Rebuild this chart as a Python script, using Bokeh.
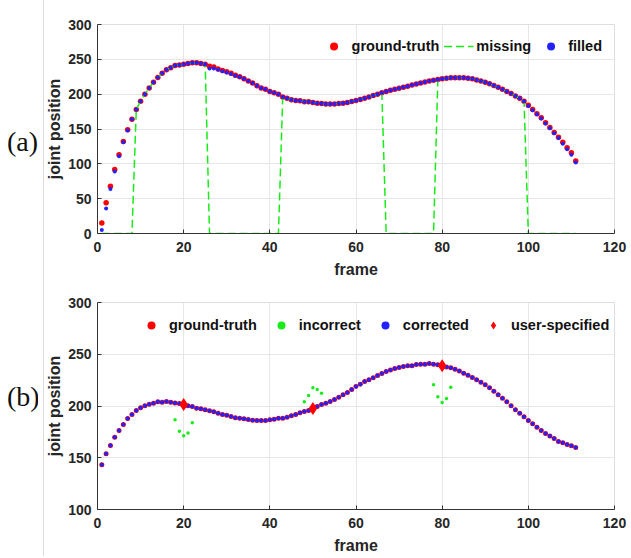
from bokeh.plotting import figure
from bokeh.models import Range1d, FixedTicker, Legend, LegendItem, Div
from bokeh.layouts import column, row
from bokeh.embed import file_html
from bokeh.resources import INLINE

# ---------------- data ----------------
frames = list(range(1, 112))

truth_a = [15, 44, 68, 92, 113, 132, 149, 164, 178, 190,
           200, 209, 217, 224, 230, 235, 238, 241, 242, 243,
           244, 245, 245, 244, 243, 240, 239, 236, 234, 232,
           230, 227, 225, 222, 219, 216, 212, 209, 207, 204,
           202, 200, 196, 194, 192, 191, 190.5, 189, 189, 188,
           187, 186.5, 186, 186, 186, 186.5, 187, 188, 189.5, 191,
           192.5, 194, 196, 198, 200, 202, 204, 205.5, 207, 208.5,
           210, 211.5, 213, 214.5, 216, 217.5, 219, 220, 221, 222,
           223, 223.5, 223.5, 223.5, 223.5, 223, 222, 220.5, 219, 217,
           215, 212.5, 210, 207, 204, 201, 197.5, 194, 190, 184,
           178, 172, 166, 159, 152, 145, 138, 131, 123, 116,
           104]

filled_a = [5, 36, 64, 89, 111, 131, 148, 164, 178, 190,
            200, 209, 217, 224, 230, 235, 238, 241, 242, 243,
            244, 245, 245, 244, 243, 237, 237, 235, 233, 231,
            229, 226.5, 224.5, 222, 219, 216, 212, 209, 207, 204,
            202, 200, 196, 194, 192, 191, 190.5, 189, 189, 188,
            187, 186.5, 186, 186, 186, 186.5, 187, 188, 189.5, 191,
            192.5, 194, 196, 198, 200, 202, 204, 205.5, 207, 208.5,
            210, 211.5, 213, 214.5, 216, 217.5, 219, 220, 221, 222,
            223, 223.5, 223.5, 223.5, 223.5, 223, 222, 220.5, 219, 217,
            215, 212.5, 210, 207, 204, 201, 197.5, 194, 190, 183,
            177, 171, 165, 158, 151, 144, 137, 129, 121, 113,
            102]

missing_gaps_a = [(1, 8), (26, 42), (67, 78), (100, 111)]

truth_b = [143.2, 153.8, 161.8, 169.9, 176.3, 182.1, 187.9, 191.8, 195.7, 198.2,
           200.2, 201.8, 202.7, 204.0, 203.7, 204.3, 203.7, 203.0, 202.4, 201.4,
           200.2, 199.5, 197.9, 197.3, 196.3, 195.3, 194.4, 193.0, 191.8, 191.1,
           189.9, 188.6, 188.2, 187.6, 187.0, 186.3, 186.0, 186.0, 186.0, 186.6,
           187.3, 188.2, 188.2, 189.2, 190.5, 191.8, 193.4, 194.7, 195.7, 197.6,
           199.5, 201.4, 202.7, 204.3, 206.3, 208.5, 210.8, 213.0, 215.9, 218.8,
           221.0, 223.7, 225.3, 227.2, 229.5, 231.4, 233.3, 234.9, 236.2, 237.2,
           238.2, 238.8, 238.8, 240.1, 240.4, 240.4, 241.0, 240.4, 239.8, 238.8,
           237.8, 236.9, 235.6, 233.7, 231.7, 229.8, 227.5, 225.3, 223.0, 220.5,
           217.6, 214.3, 210.8, 207.6, 204.0, 200.2, 196.3, 193.0, 189.5, 186.0,
           182.8, 179.5, 176.3, 173.4, 171.1, 168.6, 165.7, 164.4, 162.8, 161.5,
           159.9]

corrected_b = list(truth_b)

incorrect_frames_b = [18, 19, 20, 21, 22, 48, 49, 50, 51, 52, 78, 79, 80, 81, 82]
incorrect_b = [186.6, 175.7, 171.2, 174.0, 183.7,
               204.0, 210.1, 217.6, 216.0, 212.4,
               220.5, 208.9, 203.4, 207.2, 218.2]

user_frames_b = [20, 50, 80]
user_b = [201.4, 197.6, 238.8]

x_ticks = [0, 20, 40, 60, 80, 100, 120]
y_ticks_a = [0, 50, 100, 150, 200, 250, 300]
y_ticks_b = [100, 150, 200, 250, 300]

missing_a = [0 if any(lo <= f <= hi for lo, hi in missing_gaps_a) else v
             for f, v in zip(frames, truth_a)]

RED = "#ff0000"
BLUE = "#2222ff"
GREEN = "#18ec18"
AX = "#333333"
FONT = "Liberation Sans"
SEP_LINE = ("linear-gradient(to right, #ffffff 0px, #ffffff 5px, #dcdcdc 5px, "
            "#dcdcdc 6px, #ffffff 6px, #ffffff 100%)")


def style(p, yticks):
    p.xaxis.ticker = FixedTicker(ticks=x_ticks)
    p.yaxis.ticker = FixedTicker(ticks=yticks)
    for ax in (p.xaxis, p.yaxis):
        ax.axis_line_color = AX
        ax.major_tick_line_color = AX
        ax.major_tick_in = 4
        ax.major_tick_out = 0
        ax.minor_tick_line_color = None
        ax.major_label_text_font = FONT
        ax.major_label_text_font_style = "bold"
        ax.major_label_text_font_size = "14px"
        ax.major_label_text_color = "#262626"
        ax.axis_label_text_font = FONT
        ax.axis_label_text_font_style = "bold"
        ax.axis_label_text_font_size = "16px"
        ax.axis_label_text_color = "#262626"
    p.xaxis.major_label_standoff = 8
    p.yaxis.major_label_standoff = 6
    p.xaxis.axis_label_standoff = 6
    p.yaxis.axis_label_standoff = 2
    p.xgrid.grid_line_color = "#e6e6e6"
    p.ygrid.grid_line_color = "#e6e6e6"
    p.outline_line_color = "#dedede"
    p.background_fill_color = "white"
    p.border_fill_alpha = 0
    p.styles = {"background": SEP_LINE}


def make_legend(items, spacing, location, margin):
    return Legend(items=items, orientation="horizontal", location=location,
                  glyph_width=30, glyph_height=20, label_standoff=3, spacing=spacing,
                  padding=2, margin=margin, background_fill_alpha=0, border_line_color=None,
                  label_text_font=FONT, label_text_font_style="bold",
                  label_text_font_size="14.5px", label_text_color="#111111")


# ---------------- panel (a) ----------------
pa = figure(width=592, height=280, output_backend="svg", toolbar_location=None,
            x_range=Range1d(0, 120), y_range=Range1d(0, 300),
            min_border_left=58, min_border_right=16, min_border_top=24, min_border_bottom=44,
            x_axis_label="frame", y_axis_label="joint position")
style(pa, y_ticks_a)
ra1 = pa.scatter(frames, truth_a, size=5.5, color=RED, line_color=None)
ra2 = pa.line(frames, missing_a, line_color=GREEN, line_width=1.5, line_dash="8 4")
ra3 = pa.scatter(frames, filled_a, size=4, color=BLUE, line_color=None)
pa.add_layout(make_legend([LegendItem(label="ground-truth", renderers=[ra1]),
                           LegendItem(label="missing", renderers=[ra2]),
                           LegendItem(label="filled", renderers=[ra3])],
                          4, "top_right", 12))

# ---------------- panel (b) ----------------
pb = figure(width=592, height=276, output_backend="svg", toolbar_location=None,
            x_range=Range1d(0, 120), y_range=Range1d(100, 300),
            min_border_left=59, min_border_right=9, min_border_top=22, min_border_bottom=47,
            x_axis_label="frame", y_axis_label="joint position")
style(pb, y_ticks_b)
rb1 = pb.scatter(frames, truth_b, size=5, color=RED, line_color=None)
rb2 = pb.scatter(incorrect_frames_b, incorrect_b, size=3.5, color=GREEN, line_color=None)
rb3 = pb.scatter(frames, corrected_b, size=4, color=BLUE, line_color=None)
rb4 = pb.scatter(user_frames_b, user_b, marker="diamond", size=13, color=RED, line_color=None)
pb.add_layout(make_legend([LegendItem(label="ground-truth", renderers=[rb1]),
                           LegendItem(label="incorrect", renderers=[rb2]),
                           LegendItem(label="corrected", renderers=[rb3]),
                           LegendItem(label="user-specified", renderers=[rb4])],
                          9, (39, 174), 0))

# ---------------- panel letters ----------------
letters_html = (
    '<div style="position:relative;width:38px;height:556px;">'
    '<span style="position:absolute;left:7px;top:128px;font-family:\'Liberation Serif\';'
    'font-size:28px;line-height:1;color:#111">(a)</span>'
    '<span style="position:absolute;left:7px;top:383px;font-family:\'Liberation Serif\';'
    'font-size:28px;line-height:1;color:#111">(b)</span>'
    '</div>'
)
letters = Div(text=letters_html, width=38, height=556, margin=0)

layout = row(letters, column(pa, pb))
open("out.html", "w").write(file_html(layout, INLINE))
